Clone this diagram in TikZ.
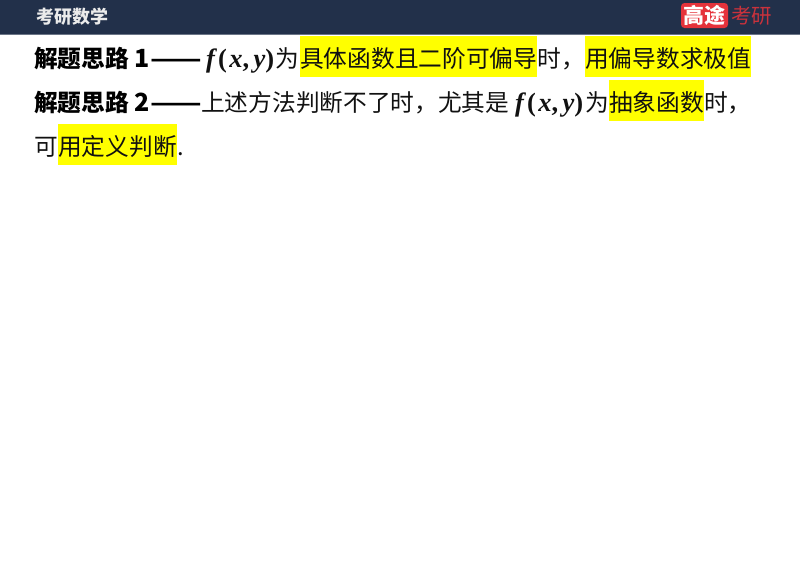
\documentclass[tikz,border=0pt]{standalone}
\usepackage{fontspec}
\setmainfont{Noto Sans CJK SC}
\newfontfamily\mathserif{Liberation Serif}
\definecolor{barblue}{HTML}{22304A}
\definecolor{barline}{HTML}{6B7587}
\definecolor{logored}{HTML}{E5323B}
\definecolor{logotext}{HTML}{C9323C}
\definecolor{inktext}{HTML}{111111}
\definecolor{marker}{HTML}{FFFF00}
\newcommand{\fxy}{{\mathserif\bfseries\itshape f\kern3pt\upshape(\kern2.5pt\itshape x\upshape,\kern4.5pt\itshape y\upshape)}}
\tikzset{
  body/.style={anchor=base west,inner sep=0pt,font=\fontsize{23.7}{28}\selectfont,text=inktext},
  lead/.style={body,font=\fontsize{23.7}{28}\selectfont\bfseries,text=black},
  dashpart/.style={lead,xscale=1.27},
  mathpart/.style={body,font=\fontsize{26.5}{28}\selectfont,text=inktext},
  hl/.style={body,fill=marker,text height=31pt,text depth=10pt}
}
\begin{document}
\begin{tikzpicture}[x=1pt,y=-1pt]
\useasboundingbox (0,0) rectangle (800,566);
\fill[white] (0,0) rectangle (800,566);
\fill[barblue] (0,0) rectangle (800,34);
\fill[barline] (0,34) rectangle (800,35);
\node[anchor=base west,inner sep=0pt,text=white!92!black,font=\fontsize{18}{20}\selectfont\bfseries] (title) at (36.5,23) {考研数学};
\node[anchor=center,inner sep=0pt,rounded corners=3.5pt,fill=logored,minimum width=47pt,minimum height=25pt,text=white,font=\fontsize{21}{22}\selectfont\bfseries] (logoa) at (704.5,15.5) {高途};
\node[anchor=base west,inner sep=0pt,text=logotext,font=\fontsize{20.5}{22}\selectfont] (logob) at (731,23) {考研};
% line 1
\node[lead] (a1) at (34,67) {解题思路 \fontsize{25}{28}\selectfont 1};
\node[dashpart] (a1d) at (150,67) {——};
\node[mathpart] (a2) at (206,67) {\fxy};
\node[body] (a3) at (275,67) {为};
\node[hl] (a4) at (300,67) {具体函数且二阶可偏导};
\node[body] (a5) at (537.5,67) {时，};
\node[hl] (a6) at (585,67) {用偏导数求极值};
% line 2
\node[lead] (b1) at (34,111) {解题思路 \fontsize{25}{28}\selectfont 2};
\node[dashpart] (b1d) at (150,111) {——};
\node[body] (b2) at (201,111) {上述方法判断不了时，尤其是};
\node[mathpart] (b3) at (515,111) {\fxy};
\node[body] (b4) at (585,111) {为};
\node[hl] (b5) at (609,111) {抽象函数};
\node[body] (b6) at (704,111) {时，};
% line 3
\node[body] (c1) at (34,155) {可};
\node[hl] (c2) at (58,155) {用定义判断};
\node[body] (c3) at (177,155) {.};
\end{tikzpicture}
\end{document}
